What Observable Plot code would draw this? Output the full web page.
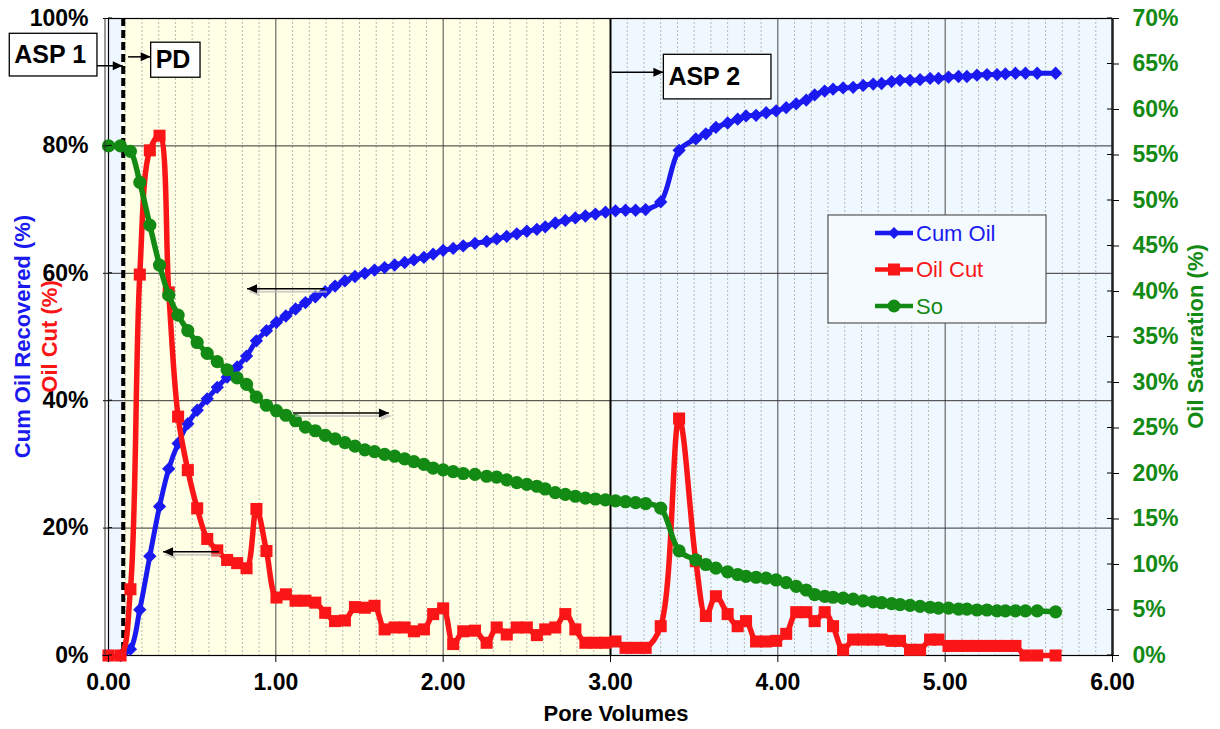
<!DOCTYPE html>
<html><head><meta charset="utf-8">
<script src="https://cdn.jsdelivr.net/npm/d3@7"></script>
<script src="https://cdn.jsdelivr.net/npm/@observablehq/plot@0.6"></script>
<style>
body{margin:0;background:#fff;}
#chart{width:1220px;height:729px;}
</style>
</head><body><div id="chart"></div>
<script>
// ---- data ----
const pv = [0, 0.072, 0.131, 0.187, 0.247, 0.305, 0.36, 0.416, 0.474, 0.53,
  0.59, 0.65, 0.709, 0.769, 0.825, 0.884, 0.944, 1.004, 1.06, 1.118,
  1.177, 1.236, 1.295, 1.354, 1.413, 1.473, 1.532, 1.59, 1.65, 1.71,
  1.77, 1.825, 1.885, 1.94, 2.00, 2.06, 2.12, 2.19, 2.26, 2.32,
  2.38, 2.44, 2.50, 2.56, 2.61, 2.67, 2.73, 2.79, 2.85, 2.91,
  2.97, 3.03, 3.09, 3.15, 3.21, 3.30, 3.41, 3.51, 3.57, 3.63,
  3.70, 3.76, 3.81, 3.87, 3.93, 3.99, 4.05, 4.11, 4.17, 4.22,
  4.28, 4.33, 4.39, 4.45, 4.51, 4.57, 4.62, 4.68, 4.73, 4.79,
  4.85, 4.91, 4.96, 5.02, 5.08, 5.13, 5.19, 5.25, 5.31, 5.36,
  5.42, 5.48, 5.55, 5.66];
const cumOil = [0, 0, 1.0, 7.2, 15.6, 23.4, 29.3, 33.3, 36.4, 38.5,
  40.3, 42.1, 43.7, 45.3, 47.0, 49.4, 51.0, 52.3, 53.3, 54.4,
  55.4, 56.3, 57.1, 58.0, 58.8, 59.5, 60.0, 60.5, 60.9, 61.3,
  61.7, 62.1, 62.5, 63.0, 63.6, 63.9, 64.3, 64.7, 65.0, 65.4,
  65.8, 66.2, 66.6, 66.9, 67.3, 67.9, 68.3, 68.7, 69.0, 69.3,
  69.6, 69.8, 69.9, 69.9, 70.0, 71.2, 79.3, 81.1, 81.9, 82.9,
  83.6, 84.2, 84.7, 84.8, 85.2, 85.5, 86.0, 86.6, 87.2, 88.0,
  88.6, 88.9, 89.1, 89.2, 89.5, 89.7, 89.8, 90.1, 90.3, 90.3,
  90.4, 90.6, 90.6, 90.8, 90.9, 90.9, 91.1, 91.2, 91.2, 91.3,
  91.4, 91.4, 91.4, 91.4];
const oilCut = [0, 0, 10.4, 59.8, 79.3, 81.6, 57, 37.5, 29.1, 23.1,
  18.3, 16.5, 15.0, 14.5, 13.7, 23.0, 16.4, 9.1, 9.6, 8.6,
  8.6, 8.3, 6.7, 5.4, 5.5, 7.6, 7.5, 7.8, 4.1, 4.4,
  4.4, 3.8, 4.1, 6.5, 7.4, 1.8, 3.8, 3.9, 2.0, 4.4,
  3.3, 4.4, 4.4, 3.2, 4.1, 4.4, 6.5, 4.1, 2.0, 2.0,
  2.0, 2.2, 1.2, 1.2, 1.2, 4.6, 37.2, 14.8, 6.2, 9.3,
  6.5, 4.6, 5.4, 2.2, 2.2, 2.3, 3.4, 6.8, 6.8, 5.4,
  6.8, 4.6, 0.9, 2.5, 2.5, 2.5, 2.5, 2.3, 2.3, 0.9,
  0.9, 2.5, 2.5, 1.5, 1.5, 1.5, 1.5, 1.5, 1.5, 1.5,
  1.5, 0, 0, 0];
const so = [56.0, 56.0, 55.4, 52.0, 47.3, 42.9, 39.6, 37.4, 35.7, 34.4,
  33.2, 32.3, 31.4, 30.5, 29.8, 28.4, 27.5, 26.9, 26.4, 25.8,
  25.1, 24.7, 24.2, 23.8, 23.4, 23.0, 22.6, 22.4, 22.1, 21.9,
  21.6, 21.3, 21.0, 20.6, 20.4, 20.2, 20.0, 19.9, 19.7, 19.6,
  19.3, 19.0, 18.8, 18.6, 18.3, 17.9, 17.7, 17.5, 17.3, 17.2,
  17.1, 17.0, 16.9, 16.8, 16.7, 16.2, 11.5, 10.5, 10.0, 9.6,
  9.2, 8.9, 8.7, 8.6, 8.5, 8.3, 8.0, 7.6, 7.2, 6.7,
  6.5, 6.4, 6.3, 6.2, 6.0, 5.9, 5.8, 5.7, 5.6, 5.5,
  5.4, 5.3, 5.2, 5.2, 5.1, 5.1, 5.0, 5.0, 4.9, 4.9,
  4.9, 4.9, 4.9, 4.8];

const leftTicks = [0, 20, 40, 60, 80, 100];
const rightTicks = [0, 5, 10, 15, 20, 25, 30, 35, 40, 45, 50, 55, 60, 65, 70];
const xTicks = [0, 1, 2, 3, 4, 5, 6];
const majorGridX = [1, 2, 4, 5];
const gridY = [20, 40, 60, 80];
const minorGridX = d3.range(1, 60).map(i => i / 10).filter(v => Math.abs(v - Math.round(v)) > 1e-6);
const phases = [
  {name: "ASP 1", x1: 0, x2: 0.088},
  {name: "PD", x1: 0.088, x2: 3.0},
  {name: "ASP 2", x1: 3.0, x2: 6.0}
];
const seriesNames = ["Cum Oil", "Oil Cut", "So"];

// annotations in data units
const boxes = [
  {label: "ASP 1", x1: -0.59, x2: -0.066, y1: 90.9, y2: 97.6},
  {label: "PD", x1: 0.255, x2: 0.55, y1: 90.7, y2: 96.2},
  {label: "ASP 2", x1: 3.319, x2: 3.962, y1: 87.3, y2: 94.3}
];
const arrows = [
  {x1: -0.066, x2: 0.088, y: 92.5, shadow: false},
  {x1: 0.12, x2: 0.255, y: 93.9, shadow: false},
  {x1: 3.01, x2: 3.319, y: 91.5, shadow: false},
  {x1: 1.297, x2: 0.831, y: 57.5, shadow: true},
  {x1: 1.106, x2: 1.679, y: 38.0, shadow: true},
  {x1: 0.663, x2: 0.329, y: 16.2, shadow: true}
];

// ---- styles ----
const BLUE = "#1a1af0", RED = "#fa1616", GREEN = "#138a13";
const FILLS = {"ASP 1": "#eef6ff", "PD": "#ffffe6", "ASP 2": "#f0f8ff"};
const soToLeft = 100 / 70;

const rows = pv.map((x, i) => ({x, cum: cumOil[i], cut: oilCut[i], so: so[i]}));

const chart = Plot.plot({
  width: 1220,
  height: 729,
  marginLeft: 108,
  marginRight: 108,
  marginTop: 18,
  marginBottom: 74,
  x: {domain: [0, 6]},
  y: {domain: [0, 100]},
  style: {fontFamily: "'Liberation Sans', Arial, sans-serif", background: "white", color: "black"},
  marks: [
    ...phases.map(p => Plot.rect([p], {x1: "x1", x2: "x2", fill: FILLS[p.name]})),
    Plot.ruleX(minorGridX, {stroke: "#b8b8b0", strokeWidth: 1, strokeDasharray: "2,2"}),
    Plot.ruleX(majorGridX, {stroke: "#4a4a4a", strokeWidth: 1}),
    Plot.ruleY(gridY, {stroke: "#333", strokeWidth: 1}),
    Plot.ruleX([3], {stroke: "black", strokeWidth: 2}),
    Plot.ruleX([phases[1].x1], {stroke: "black", strokeWidth: 4, strokeDasharray: "8,4"}),
    Plot.frame({stroke: "black", strokeWidth: 1.2}),
    Plot.ruleX([6], {stroke: "#222", strokeWidth: 2.5}),
    // Cum Oil
    Plot.line(rows, {x: "x", y: "cum", stroke: BLUE, strokeWidth: 5, curve: "catmull-rom"}),
    Plot.dot(rows, {x: "x", y: "cum", symbol: "diamond2", r: 6, fill: BLUE}),
    // Oil Cut
    Plot.line(rows, {x: "x", y: "cut", stroke: RED, strokeWidth: 5.5, curve: "catmull-rom"}),
    Plot.dot(rows, {x: "x", y: "cut", symbol: "square", r: 6.8, fill: RED}),
    // So (right axis)
    Plot.line(rows, {x: "x", y: d => d.so * soToLeft, stroke: GREEN, strokeWidth: 5.5, curve: "catmull-rom"}),
    Plot.dot(rows, {x: "x", y: d => d.so * soToLeft, symbol: "circle", r: 6.6, fill: GREEN}),
    // axes
    Plot.axisX(xTicks, {anchor: "bottom", tickSize: 7, tickPadding: 11, tickFormat: d => d.toFixed(2),
      fontSize: 23, fontWeight: "bold", label: null}),
    Plot.axisY(leftTicks, {anchor: "left", tickSize: 5, tickPadding: 15, tickFormat: d => d + "%",
      fontSize: 23, fontWeight: "bold", label: null}),
    Plot.axisY(rightTicks.map(r => r * soToLeft), {anchor: "right", tickSize: 6, tickPadding: 14,
      tickFormat: d => Math.round(d / soToLeft) + "%", fill: GREEN, stroke: "black",
      fontSize: 23, fontWeight: "bold", label: null})
  ]
});
document.getElementById("chart").append(chart);

// ---- overlays using the plot's scales ----
const sx = chart.scale("x"), sy = chart.scale("y");
const X = v => sx.apply(v), Y = v => sy.apply(v);
const svg = d3.select(chart);
const FONT = "'Liberation Sans', Arial, sans-serif";

const defs = svg.append("defs");
[["ah", "black"], ["ahs", "#bbb"]].forEach(([id, c]) => {
  defs.append("marker").attr("id", id).attr("viewBox", "0 -5 10 10")
    .attr("refX", 10).attr("refY", 0).attr("markerUnits", "userSpaceOnUse")
    .attr("markerWidth", 11).attr("markerHeight", 10).attr("orient", "auto")
    .append("path").attr("d", "M0,-4.5L10,0L0,4.5Z").attr("fill", c);
});

const g = svg.append("g").attr("text-anchor", "start");
// second axis line at left and inward ticks
g.append("line").attr("x1", X(0) - 3).attr("x2", X(0) - 3).attr("y1", Y(0)).attr("y2", Y(100))
  .attr("stroke", "#333").attr("stroke-width", 1);
leftTicks.forEach(t => g.append("line").attr("x1", X(0)).attr("x2", X(0) + 4)
  .attr("y1", Y(t)).attr("y2", Y(t)).attr("stroke", "black"));
rightTicks.forEach(t => g.append("line").attr("x1", X(6) - 5).attr("x2", X(6))
  .attr("y1", Y(t * soToLeft)).attr("y2", Y(t * soToLeft)).attr("stroke", "black"));

// arrows
arrows.forEach(a => {
  if (a.shadow) {
    g.append("line").attr("x1", X(a.x1) + 2).attr("x2", X(a.x2) + 2)
      .attr("y1", Y(a.y) + 3).attr("y2", Y(a.y) + 3)
      .attr("stroke", "#bbb").attr("stroke-width", 2).attr("opacity", 0.7)
      .attr("marker-end", "url(#ahs)");
  }
  g.append("line").attr("x1", X(a.x1)).attr("x2", X(a.x2))
    .attr("y1", Y(a.y)).attr("y2", Y(a.y))
    .attr("stroke", "black").attr("stroke-width", 1.5).attr("marker-end", "url(#ah)");
});

// phase boxes
boxes.forEach(b => {
  const x1 = X(b.x1), x2 = X(b.x2), yTop = Y(b.y2), yBot = Y(b.y1);
  g.append("rect").attr("x", x1).attr("y", yTop).attr("width", x2 - x1).attr("height", yBot - yTop)
    .attr("fill", "white").attr("stroke", "black").attr("stroke-width", 1.3);
  g.append("text").attr("x", x1 + 5).attr("y", (yTop + yBot) / 2).attr("dy", "0.34em")
    .attr("text-anchor", "start")
    .attr("font-family", FONT).attr("font-size", 25).attr("font-weight", "bold")
    .attr("fill", "black").text(b.label);
});

// axis titles
const title = (txt, x, y, color, rot) => g.append("text")
  .attr("transform", `translate(${x},${y})` + (rot ? " rotate(-90)" : ""))
  .attr("text-anchor", "middle").attr("dy", "0.35em")
  .attr("font-family", FONT).attr("font-size", 22).attr("font-weight", "bold")
  .attr("fill", color).text(txt);
const cy = (Y(0) + Y(100)) / 2;
title("Cum Oil Recovered (%)", 22, cy, BLUE, true);
title("Oil Cut (%)", 49, cy, RED, true);
title("Oil Saturation (%)", 1195, cy, GREEN, true);
title("Pore Volumes", (X(0) + X(6)) / 2 + 6, 713, "black", false);

// legend
const lg = g.append("g");
lg.append("rect").attr("x", 828).attr("y", 215).attr("width", 218).attr("height", 108)
  .attr("fill", "#f5faff").attr("stroke", "#555").attr("stroke-width", 1.2);
const legendColors = [BLUE, RED, GREEN];
seriesNames.forEach((name, i) => {
  const yy = 233 + i * 36.5, c = legendColors[i];
  lg.append("line").attr("x1", 875).attr("x2", 913).attr("y1", yy).attr("y2", yy)
    .attr("stroke", c).attr("stroke-width", 4.5);
  if (i === 0) lg.append("path").attr("d", d3.symbol(d3.symbolDiamond2, 90)())
    .attr("transform", `translate(894,${yy})`).attr("fill", c);
  if (i === 1) lg.append("rect").attr("x", 888).attr("y", yy - 6).attr("width", 12).attr("height", 12).attr("fill", c);
  if (i === 2) lg.append("circle").attr("cx", 894).attr("cy", yy).attr("r", 6.5).attr("fill", c);
  lg.append("text").attr("x", 916).attr("y", yy).attr("dy", "0.35em").attr("text-anchor", "start")
    .attr("font-family", FONT).attr("font-size", 22).attr("fill", c).text(name);
});
</script>
</body></html>
